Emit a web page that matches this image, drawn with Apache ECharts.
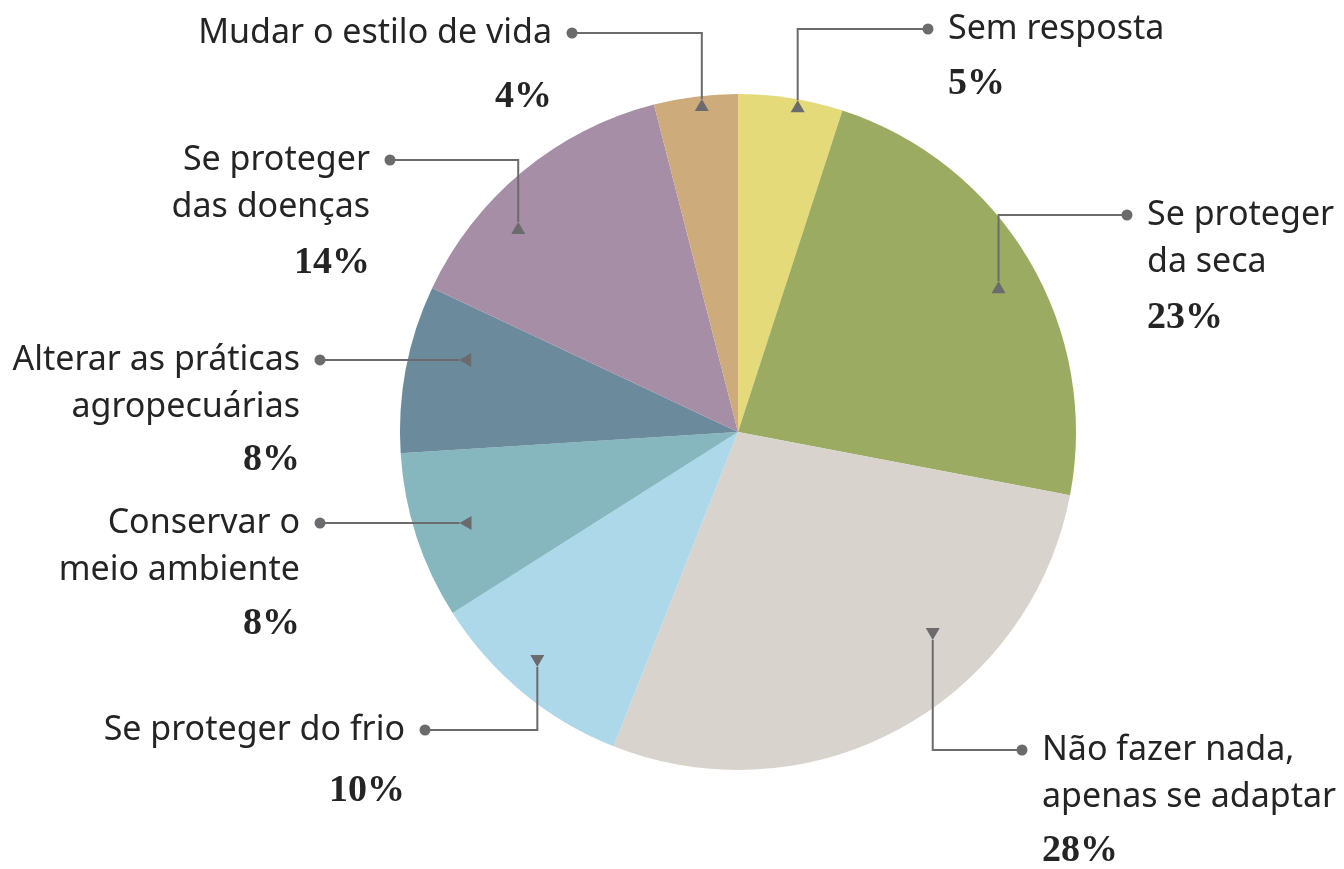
<!DOCTYPE html>
<html>
<head>
<meta charset="utf-8">
<script src="https://cdn.jsdelivr.net/npm/echarts@6/dist/echarts.min.js"></script>
<style>
  html, body { margin: 0; padding: 0; background: #ffffff; }
  #chart { width: 1344px; height: 869px; }
</style>
</head>
<body>
<div id="chart"></div>
<script>
// Answers, clockwise from the top of the pie
const categories = [
  'Sem resposta',
  'Se proteger\nda seca',
  'Não fazer nada,\napenas se adaptar',
  'Se proteger do frio',
  'Conservar o\nmeio ambiente',
  'Alterar as práticas\nagropecuárias',
  'Se proteger\ndas doenças',
  'Mudar o estilo de vida'
];
const values = [5, 23, 28, 10, 8, 8, 14, 4];
const colors = ['#e4da79', '#9bab61', '#d8d3cd', '#acd8e9', '#86b6be', '#6b8a9b', '#a68ea6', '#cdab7a'];

// Leader placement: tip of the marker (angle shift from slice middle, radius),
// direction of the leader, dot x, first text line y, text side, height of the % line
const leaders = [
  { dTheta: 1.2,   r: 337, kind: 'up',   dotX: 928,  labelY: 29,  side: 'right', pctLH: 64 },
  { dTheta: 0.55,  r: 301, kind: 'up',   dotX: 1127, labelY: 215, side: 'right', pctLH: 66 },
  { dTheta: -14.3, r: 285, kind: 'down', dotX: 1022, labelY: 750, side: 'right', pctLH: 62 },
  { dTheta: 0.9,   r: 309, kind: 'down', dotX: 425,  labelY: 730, side: 'left',  pctLH: 76 },
  { dTheta: -0.1,  r: 293, kind: 'h',    dotX: 320,  labelY: null, side: 'left', pctLH: 62 },
  { dTheta: 3.7,   r: 288, kind: 'h',    dotX: 320,  labelY: null, side: 'left', pctLH: 60 },
  { dTheta: -6.7,  r: 304, kind: 'up',   dotX: 390,  labelY: 160, side: 'left',  pctLH: 66 },
  { dTheta: 1.0,   r: 335, kind: 'up',   dotX: 572,  labelY: 33,  side: 'left',  pctLH: 82 }
];

const CX = 738, CY = 432, R = 338;
const LINE_COLOR = '#6b6b6d';
const TEXT_COLOR = '#242424';
const NAME_LH = 47, TEXT_GAP = 20;

const total = values.reduce((a, b) => a + b, 0);
let cum = 0;
const geo = values.map((v, i) => {
  const mid = (cum + v / 2) / total * 360;
  cum += v;
  const L = leaders[i];
  const th = (mid + L.dTheta) * Math.PI / 180;
  const ax = CX + L.r * Math.sin(th);
  const ay = CY - L.r * Math.cos(th);
  const ly = L.kind === 'h' ? ay : L.labelY;
  const pts = L.kind === 'h'
    ? [[ax, ay], [L.dotX, ay]]
    : [[ax, ay], [ax, ly], [L.dotX, ly]];
  let tri;
  if (L.kind === 'up') tri = [[ax, ay], [ax - 7, ay + 12], [ax + 7, ay + 12]];
  else if (L.kind === 'down') tri = [[ax, ay], [ax - 7, ay - 12], [ax + 7, ay - 12]];
  else tri = [[ax, ay], [ax + 12, ay - 7], [ax + 12, ay + 7]];
  return { ax, ay, ly, pts, tri };
});

// Leader lines, markers and dots, on top of the slices
const graphics = [];
geo.forEach((g, i) => {
  graphics.push({
    type: 'polyline', z: 100, silent: true,
    shape: { points: g.pts },
    style: { stroke: LINE_COLOR, lineWidth: 2, fill: null }
  });
  graphics.push({
    type: 'polygon', z: 101, silent: true,
    shape: { points: g.tri },
    style: { fill: LINE_COLOR }
  });
  graphics.push({
    type: 'circle', z: 101, silent: true,
    shape: { cx: leaders[i].dotX, cy: g.ly, r: 5.5 },
    style: { fill: LINE_COLOR }
  });
});

function richFor(i) {
  return {
    name: {
      fontFamily: '"Noto Sans", sans-serif',
      fontSize: 34,
      lineHeight: NAME_LH,
      color: TEXT_COLOR
    },
    pct: {
      fontFamily: '"Liberation Serif", serif',
      fontWeight: 'bold',
      fontSize: 38,
      lineHeight: leaders[i].pctLH,
      color: TEXT_COLOR
    }
  };
}

const chart = echarts.init(document.getElementById('chart'), null, { renderer: 'canvas' });
chart.setOption({
  backgroundColor: '#ffffff',
  animation: false,
  graphic: graphics,
  series: [{
    type: 'pie',
    center: [CX, CY],
    radius: R,
    startAngle: 90,
    clockwise: true,
    avoidLabelOverlap: false,
    silent: true,
    emphasis: { disabled: true },
    itemStyle: { borderWidth: 0 },
    data: categories.map((name, i) => ({
      name,
      value: values[i],
      itemStyle: { color: colors[i] },
      label: { rich: richFor(i) }
    })),
    label: {
      show: true,
      position: 'outside',
      formatter: p => `{name|${p.name}}\n{pct|${p.value}%}`
    },
    labelLine: { show: false },
    labelLayout: params => {
      const i = params.dataIndex;
      const L = leaders[i];
      const g = geo[i];
      const right = L.side === 'right';
      return {
        x: right ? L.dotX + TEXT_GAP : L.dotX - TEXT_GAP,
        y: g.ly - NAME_LH / 2,
        align: right ? 'left' : 'right',
        verticalAlign: 'top'
      };
    }
  }]
});
</script>
</body>
</html>
